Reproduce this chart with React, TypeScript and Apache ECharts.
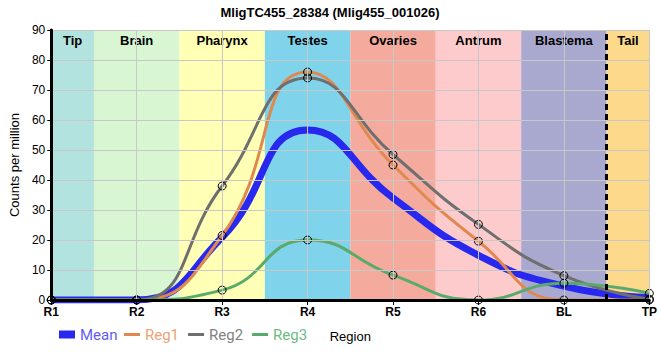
import React, { useEffect, useRef } from "react";
import * as echarts from "echarts";

const categories = ["R1", "R2", "R3", "R4", "R5", "R6", "BL", "TP"];
const bandNames = ["Tip", "Brain", "Pharynx", "Testes", "Ovaries", "Antrum", "Blastema", "Tail"];
const bandStarts = [0, 0.5, 1.5, 2.5, 3.5, 4.5, 5.5, 6.5];
const bandEnds = [0.5, 1.5, 2.5, 3.5, 4.5, 5.5, 6.5, 7];
const bandColors = ["#b3e3de", "#d8f6d2", "#ffffb5", "#7fd3eb", "#f4ab9d", "#fdcbcb", "#a9a9cf", "#fdda8b"];
const meanValues = [0, 0, 20.9, 56.7, 34, 14.9, 4.6, 0.8];
const reg1Values = [0, 0, 21.5, 76, 45, 19.6, 0, 0];
const reg2Values = [0, 0, 38, 74, 48.5, 25.2, 8.1, 0.3];
const reg3Values = [0, 0, 3.3, 20, 8.3, 0, 5.6, 2.2];
const tailBoundary = 6.5;

const FONT = "Liberation Sans";

const toXY = (arr: number[]) => arr.map((v, i) => [i, v]);

export default function App() {
  const ref = useRef<HTMLDivElement>(null);
  useEffect(() => {
    if (!ref.current) return;
    const chart = echarts.init(ref.current, undefined, { renderer: "svg" });
    const regSeries = (name: string, color: string, values: number[]) => ({
      name,
      type: "line",
      data: toXY(values),
      smooth: 0.5,
      symbol: "circle",
      symbolSize: 8,
      z: 4,
      lineStyle: { color, width: 3 },
      itemStyle: { color: "rgba(255,255,255,0)", borderColor: "#000", borderWidth: 1 },
    });
    chart.setOption({
      animation: false,
      textStyle: { fontFamily: FONT },
      title: {
        text: "MligTC455_28384 (Mlig455_001026)",
        left: "center",
        top: 1,
        textStyle: { fontSize: 13, fontWeight: "bold", color: "#000", fontFamily: FONT },
      },
      legend: [
        {
          left: 54,
          top: 322,
          itemWidth: 16,
          itemHeight: 8,
          icon: "rect",
          itemStyle: { borderWidth: 0 },
          textStyle: { fontSize: 15, fontFamily: "Roboto" },
          data: [
            {
              name: "Mean",
              itemStyle: { color: "#2828ee", borderWidth: 0 },
              textStyle: { color: "#5d5df5" },
            },
          ],
        },
        {
          left: 119,
          top: 322,
          itemWidth: 16,
          itemHeight: 3,
          itemGap: 9,
          icon: "rect",
          itemStyle: { borderWidth: 0 },
          textStyle: { fontSize: 15, fontFamily: "Roboto" },
          data: [
            { name: "Reg1", itemStyle: { color: "#e0894f", borderWidth: 0 }, textStyle: { color: "#eca275" } },
            { name: "Reg2", itemStyle: { color: "#6f6f6f", borderWidth: 0 }, textStyle: { color: "#828282" } },
            { name: "Reg3", itemStyle: { color: "#5aaa6c", borderWidth: 0 }, textStyle: { color: "#6fba82" } },
          ],
        },
      ],
      grid: {
        left: 50,
        right: 10,
        top: 30,
        bottom: 60,
      },
      xAxis: [
        {
          type: "value",
          min: 0,
          max: 7,
          interval: 1,
          name: "Region",
          nameLocation: "middle",
          nameGap: 30,
          nameTextStyle: { fontSize: 13, color: "#000", fontFamily: FONT },
          axisLine: { lineStyle: { color: "#000", width: 3 } },
          axisTick: { show: true, length: 5, lineStyle: { color: "#000" } },
          axisLabel: {
            formatter: (v: number) => categories[v] ?? "",
            color: "#000",
            fontSize: 12,
            fontWeight: "bold",
            margin: 6,
          },
          splitLine: { show: true, lineStyle: { color: "#c8c8c8", width: 1 } },
          z: 5,
        },
        {
          type: "value",
          position: "top",
          min: 0,
          max: 7,
          interval: 1,
          axisLine: { show: true, lineStyle: { color: "#000", width: 2 } },
          axisTick: { show: false },
          axisLabel: { show: false },
          splitLine: { show: false },
          z: 5,
        },
      ],
      yAxis: [
        {
          type: "value",
          min: 0,
          max: 90,
          interval: 10,
          name: "Counts per million",
          nameLocation: "middle",
          nameGap: 24,
          nameTextStyle: { fontSize: 13, color: "#000", fontFamily: FONT },
          axisLine: { show: true, lineStyle: { color: "#000", width: 3 } },
          axisTick: { show: true, length: 4, lineStyle: { color: "#000" } },
          axisLabel: { color: "#000", fontSize: 12, margin: 6 },
          splitLine: { show: true, lineStyle: { color: "#c8c8c8", width: 1 } },
          z: 5,
        },
        {
          type: "value",
          position: "right",
          min: 0,
          max: 90,
          interval: 10,
          axisLine: { show: true, lineStyle: { color: "#000", width: 2 } },
          axisTick: { show: false },
          axisLabel: { show: false },
          splitLine: { show: false },
          z: 5,
        },
      ],
      series: [
        {
          name: "bands",
          type: "line",
          data: [],
          z: -1,
          silent: true,
          markArea: {
            silent: true,
            data: bandNames.map((n, i) => [
              {
                name: n,
                xAxis: bandStarts[i],
                itemStyle: { color: bandColors[i] },
              },
              { xAxis: bandEnds[i] },
            ]),
            label: {
              show: true,
              position: "insideTop",
              distance: 4,
              color: "#000",
              fontSize: 13,
              fontWeight: "bold",
              fontFamily: FONT,
            },
          },
        },
        {
          name: "boundary",
          type: "line",
          data: [],
          z: 3,
          silent: true,
          markLine: {
            silent: true,
            symbol: "none",
            label: { show: false },
            lineStyle: { color: "#000", type: [6, 4], width: 3 },
            data: [{ xAxis: tailBoundary }],
          },
        },
        {
          name: "Mean",
          type: "line",
          data: toXY(meanValues),
          smooth: 0.5,
          showSymbol: false,
          symbol: "none",
          z: 3,
          lineStyle: { color: "#2828ee", width: 7 },
          itemStyle: { color: "#2828ee" },
        },
        regSeries("Reg1", "#e0894f", reg1Values),
        regSeries("Reg2", "#6f6f6f", reg2Values),
        regSeries("Reg3", "#5aaa6c", reg3Values),
      ],
    });
    return () => chart.dispose();
  }, []);
  return <div ref={ref} style={{ width: 660, height: 360, position: "absolute", left: 0, top: 0 }} />;
}
